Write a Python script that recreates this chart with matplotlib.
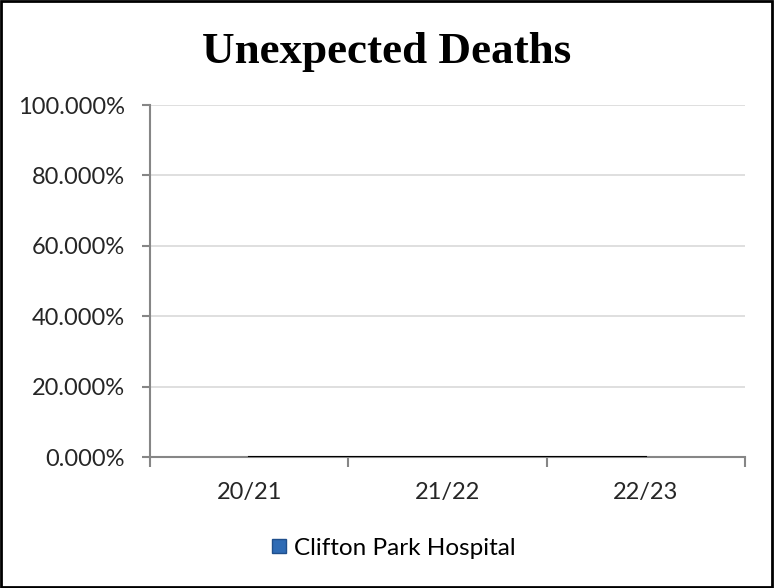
import matplotlib.pyplot as plt
from matplotlib.lines import Line2D
from matplotlib.ticker import FuncFormatter

# data
years = ["20/21", "21/22", "22/23"]
deaths = [0.0, 0.0, 0.0]
series_name = "Clifton Park Hospital"

fig = plt.figure(figsize=(7.74, 5.88), dpi=100)
ax = fig.add_axes([150 / 774, 1 - 457 / 588, 595 / 774, 352 / 588])

x = [i + 0.5 for i in range(len(years))]
ax.plot(x, deaths, color="black", lw=1.5, zorder=3)

ax.set_xlim(0, len(years))
ax.set_ylim(0, 1)
ax.set_yticks([0, 0.2, 0.4, 0.6, 0.8, 1.0])
ax.yaxis.set_major_formatter(FuncFormatter(lambda v, p: f"{v * 100:.3f}%"))
ax.set_xticks(x)
ax.set_xticklabels(years)
ax.set_xticks(range(len(years) + 1), minor=True)
ax.tick_params(axis="x", which="major", length=0, pad=18)
ax.tick_params(axis="x", which="minor", length=7, color="#868686", width=1.5)
ax.tick_params(axis="y", length=6, color="#868686", width=1.5, pad=12)
ax.tick_params(labelsize=17, labelcolor="#262626")
for lab in ax.get_xticklabels() + ax.get_yticklabels():
    lab.set_fontfamily("Lato")

ax.grid(axis="y", color="#d9d9d9", lw=1.2)
ax.set_axisbelow(True)
for s in ["top", "right"]:
    ax.spines[s].set_visible(False)
for s in ["left", "bottom"]:
    ax.spines[s].set_color("#868686")
    ax.spines[s].set_linewidth(1.5)

fig.text(0.5, 1 - 52 / 588, "Unexpected Deaths", ha="center", va="center",
         fontsize=32.5, fontweight="bold", family="Liberation Serif")

handle = Line2D([], [], ls="none", marker="s", ms=10, mfc="#2e6bb5", mec="#1f4f8c")
fig.legend([handle], [series_name], loc="center", bbox_to_anchor=(393 / 774, 1 - 548 / 588),
           frameon=False, prop={"family": "Lato", "size": 17.5}, handlelength=0.7,
           handletextpad=0.3)

# black frame around the chart
fig.patches.append(plt.Rectangle((0.001, 0.001), 0.997, 0.997, transform=fig.transFigure,
                                 fill=False, ec="black", lw=2))

fig.savefig("out.png", dpi=100)
